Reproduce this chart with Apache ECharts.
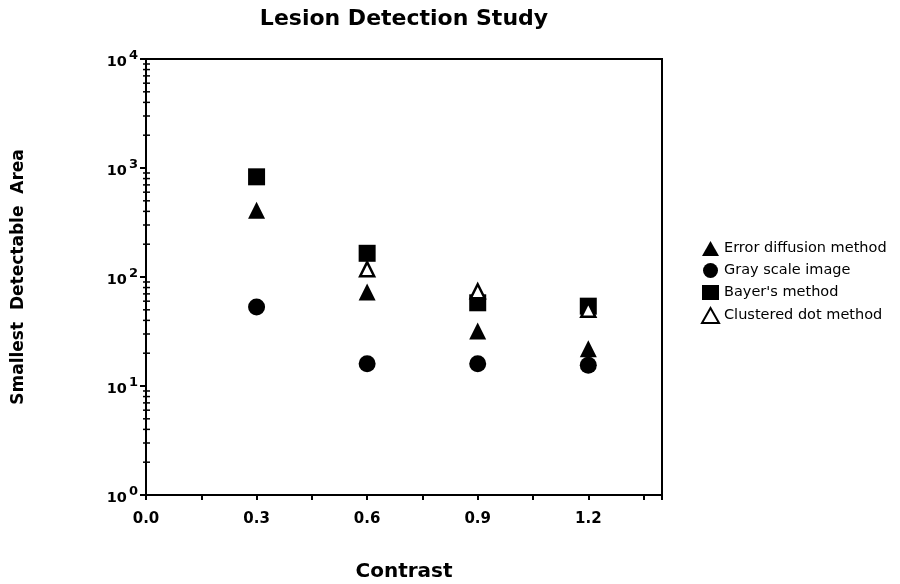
<!DOCTYPE html>
<html>
<head>
<meta charset="utf-8">
<script src="https://cdn.jsdelivr.net/npm/echarts@6/dist/echarts.min.js"></script>
<style>
  html, body { margin: 0; padding: 0; background: #fff; }
  #chart { width: 900px; height: 584px; }
</style>
</head>
<body>
<div id="chart"></div>
<script>
// contrast values on x, smallest detectable area on y (log)
const errorDiffusion = [[0.3, 410], [0.6, 73], [0.9, 32], [1.2, 22]]
const grayScale = [[0.3, 53], [0.6, 16], [0.9, 16], [1.2, 15.5]]
const bayer = [[0.3, 830], [0.6, 165], [0.9, 58], [1.2, 54]]
const clusteredDot = [[0.6, 118], [0.9, 74], [1.2, 50]]

const seriesNames = ['Error diffusion method', 'Gray scale image', "Bayer's method", 'Clustered dot method']

// minor log ticks 2..9 in each decade
const minorTickValues = []
for (let d = 1; d < 10000; d *= 10) {
  for (let k = 2; k <= 9; k++) minorTickValues.push(d * k)
}

const font = '"DejaVu Sans", Verdana, sans-serif'
const chart = echarts.init(document.getElementById('chart'))

const option = {
  backgroundColor: '#fff',
  animation: false,
  grid: {
    left: 146,
    right: 238,
    top: 59,
    bottom: 89,
    show: true,
    borderColor: '#000',
    borderWidth: 2,
  },
  legend: {
    orient: 'vertical',
    left: 696,
    top: 236,
    itemGap: 7,
    itemWidth: 17,
    itemHeight: 15,
    data: seriesNames,
    textStyle: { fontFamily: font, fontSize: 14.5, color: '#000' },
  },
  xAxis: {
    type: 'value',
    min: 0,
    max: 1.4,
    interval: 0.3,
    axisLine: { lineStyle: { color: '#000', width: 2 } },
    axisTick: { show: true, length: 5, lineStyle: { color: '#000', width: 2 } },
    minorTick: { show: true, splitNumber: 2, length: 5, lineStyle: { color: '#000', width: 2 } },
    splitLine: { show: false },
    axisLabel: {
      fontFamily: font,
      fontSize: 15,
      fontWeight: 'bold',
      color: '#000',
      margin: 17,
      formatter: v => v.toFixed(1),
      showMaxLabel: false,
    },
  },
  yAxis: {
    type: 'log',
    logBase: 10,
    min: 1,
    max: 10000,
    axisLine: { lineStyle: { color: '#000', width: 2 } },
    axisTick: { show: true, length: 6, lineStyle: { color: '#000', width: 2 } },
    splitLine: { show: false },
    name: 'Smallest  Detectable  Area',
    nameLocation: 'middle',
    nameGap: 119,
    nameRotate: 90,
    nameTextStyle: { fontFamily: font, fontSize: 17, fontWeight: 'bold', color: '#000' },
    axisLabel: {
      margin: 8,
      formatter: v => '{b|10}{s|' + Math.round(Math.log10(v)) + '}',
      rich: {
        b: { fontFamily: font, fontSize: 14.5, fontWeight: 'bold', color: '#000', padding: [7, 0, 0, 0] },
        s: { fontFamily: font, fontSize: 13, fontWeight: 'bold', color: '#000', padding: [0, 0, 6, 2] },
      },
    },
  },
  graphic: [
    {
      type: 'text',
      x: 404,
      y: 8,
      style: { text: 'Lesion Detection Study', align: 'center', fontFamily: font, fontSize: 22, fontWeight: 'bold', fill: '#000' },
    },
    {
      type: 'text',
      x: 404,
      y: 562,
      style: { text: 'Contrast', align: 'center', fontFamily: font, fontSize: 20, fontWeight: 'bold', fill: '#000' },
    },
  ],
  series: [
    {
      name: 'minor ticks',
      type: 'custom',
      silent: true,
      data: minorTickValues.map(v => [0, v]),
      encode: { x: 0, y: 1 },
      renderItem: function (params, api) {
        const p = api.coord([0, api.value(1)])
        return {
          type: 'line',
          shape: { x1: p[0] - 3, y1: p[1], x2: p[0] + 4, y2: p[1] },
          style: { stroke: '#000', lineWidth: 1.5 },
        }
      },
      z: 3,
    },
    {
      name: seriesNames[0],
      type: 'scatter',
      symbol: 'triangle',
      symbolSize: 17,
      itemStyle: { color: '#000', opacity: 1 },
      data: errorDiffusion,
    },
    {
      name: seriesNames[1],
      type: 'scatter',
      symbol: 'circle',
      symbolSize: 17,
      itemStyle: { color: '#000', opacity: 1 },
      data: grayScale,
    },
    {
      name: seriesNames[2],
      type: 'scatter',
      symbol: 'rect',
      symbolSize: 17,
      itemStyle: { color: '#000', opacity: 1 },
      data: bayer,
    },
    {
      name: seriesNames[3],
      type: 'scatter',
      symbol: 'triangle',
      symbolSize: 14,
      itemStyle: { color: '#fff', borderColor: '#000', borderWidth: 2.5, opacity: 1 },
      data: clusteredDot,
    },
  ],
}
chart.setOption(option)
</script>
</body>
</html>
